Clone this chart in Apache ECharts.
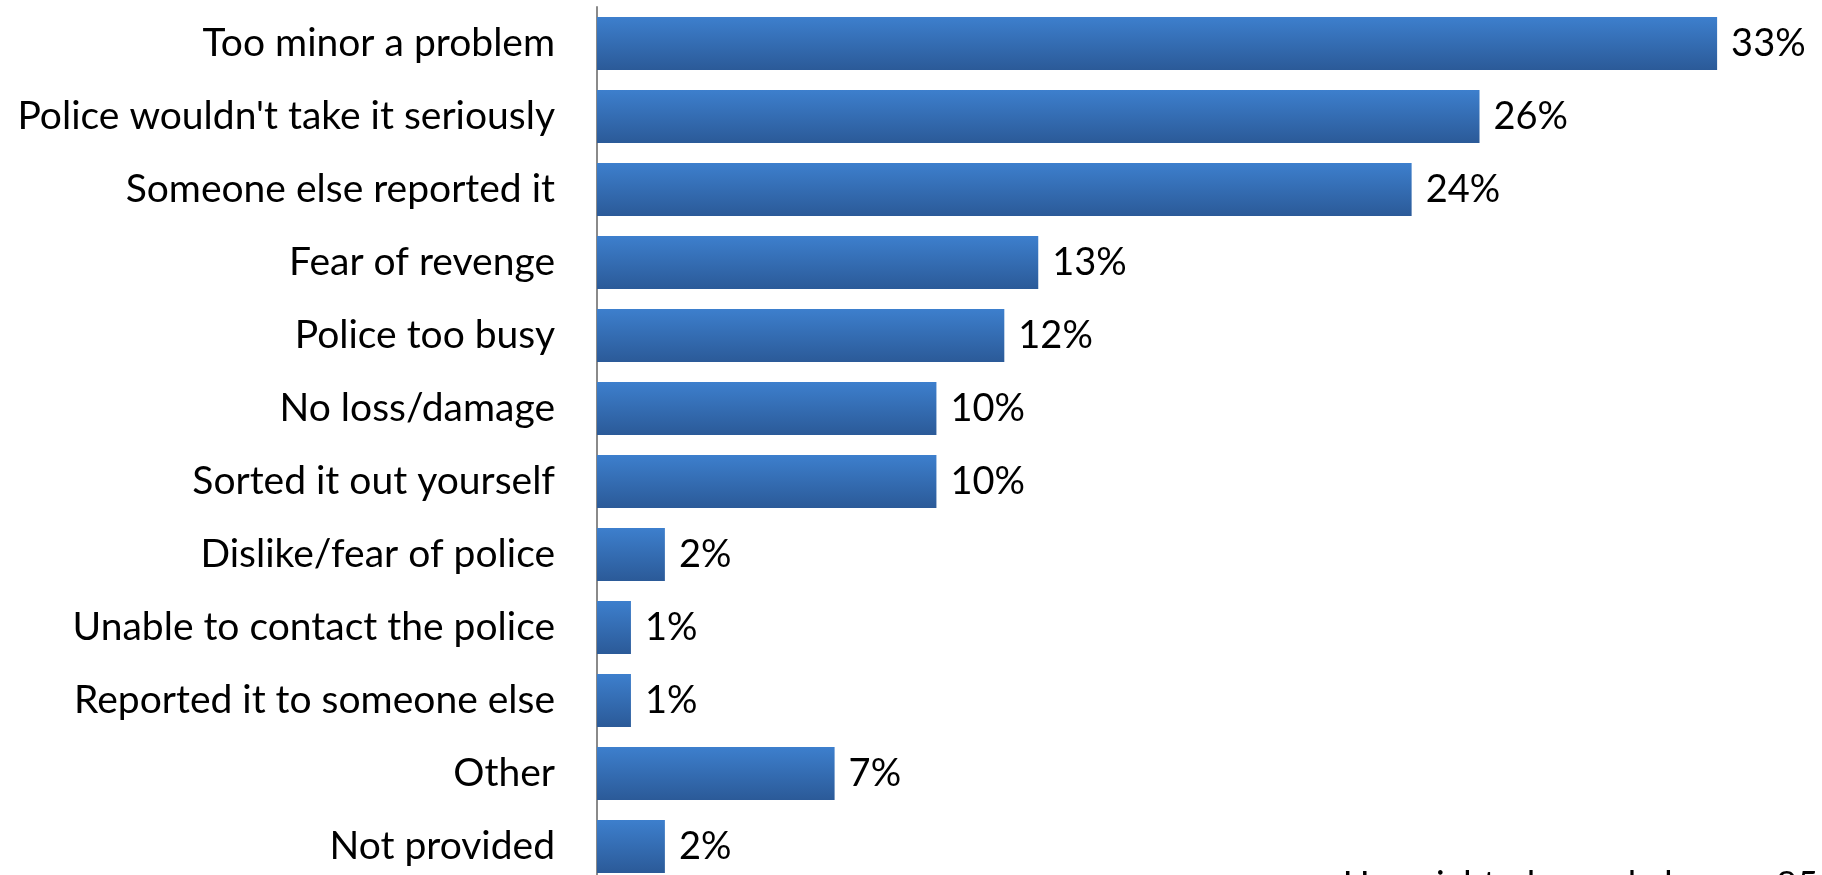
<!DOCTYPE html>
<html>
<head>
<meta charset="utf-8">
<script src="https://cdn.jsdelivr.net/npm/echarts@6/dist/echarts.min.js"></script>
<style>html,body{margin:0;padding:0;background:#fff}#c{width:1822px;height:875px}</style>
</head>
<body>
<div id="c"></div>
<script>
const categories = ["Too minor a problem","Police wouldn't take it seriously","Someone else reported it","Fear of revenge","Police too busy","No loss/damage","Sorted it out yourself","Dislike/fear of police","Unable to contact the police","Reported it to someone else","Other","Not provided"];
const values = [33,26,24,13,12,10,10,2,1,1,7,2];
const footnote = "Unweighted sample base = 85";

const FONT = "Lato";
const chart = echarts.init(document.getElementById('c'), null, {renderer:'canvas'});
chart.setOption({
  animation:false,
  backgroundColor:'#fff',
  grid:{left:597, top:7, width:1188, height:876, containLabel:false, outerBoundsMode:'none'},
  xAxis:{type:'value', min:0, max:35, show:false},
  yAxis:{type:'category', data:categories, inverse:true,
    axisLine:{show:true, lineStyle:{color:'#8a8a8a', width:2}},
    axisTick:{show:false},
    axisLabel:{color:'#000', fontFamily:FONT, fontSize:39, margin:42}
  },
  series:[{type:'bar', data:values, barWidth:53,
    itemStyle:{color:new echarts.graphic.LinearGradient(0,0,0,1,[{offset:0,color:'#3d7fcd'},{offset:1,color:'#2b5a98'}])},
    label:{show:true, position:'right', distance:14, formatter:'{c}%', color:'#000', fontFamily:FONT, fontSize:38}
  }],
  graphic:[{type:'text', left:1343, top:867, style:{text:footnote, fill:'#000', font:'36px '+FONT}}]
});
</script>
</body>
</html>
